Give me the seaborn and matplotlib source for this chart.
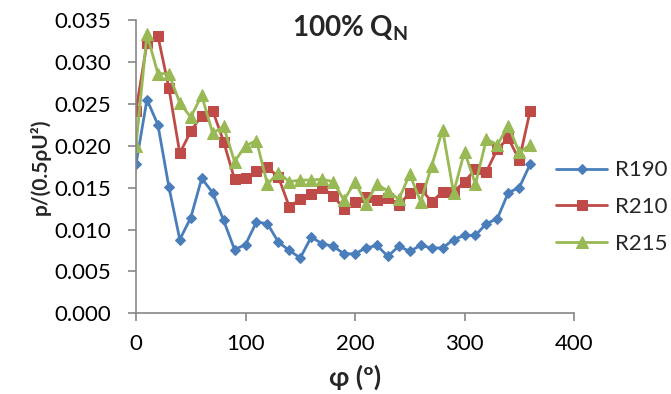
import numpy as np
import pandas as pd
import matplotlib
matplotlib.use("Agg")
import matplotlib.pyplot as plt
import seaborn as sns
from matplotlib.ticker import FormatStrFormatter

phi = list(range(0, 361, 10))
r190 = [0.0178, 0.0255, 0.0225, 0.0151, 0.0088, 0.0114, 0.0161, 0.0144, 0.0111, 0.0076,
        0.0082, 0.0109, 0.0107, 0.0085, 0.0075, 0.0066, 0.0091, 0.0083, 0.0080, 0.0071,
        0.0071, 0.0078, 0.0081, 0.0068, 0.0080, 0.0074, 0.0081, 0.0078, 0.0078, 0.0088,
        0.0093, 0.0093, 0.0107, 0.0113, 0.0144, 0.0150, 0.0178]
r210 = [0.0242, 0.0322, 0.0331, 0.0269, 0.0191, 0.0217, 0.0236, 0.0242, 0.0205, 0.0160,
        0.0161, 0.0170, 0.0174, 0.0163, 0.0127, 0.0136, 0.0142, 0.0150, 0.0140, 0.0125,
        0.0133, 0.0139, 0.0135, 0.0138, 0.0129, 0.0144, 0.0149, 0.0133, 0.0145, 0.0145,
        0.0157, 0.0172, 0.0169, 0.0196, 0.0209, 0.0183, 0.0242]
r215 = [0.0200, 0.0333, 0.0286, 0.0286, 0.0251, 0.0234, 0.0260, 0.0215, 0.0223, 0.0181,
        0.0200, 0.0206, 0.0154, 0.0168, 0.0157, 0.0159, 0.0159, 0.0160, 0.0157, 0.0135,
        0.0157, 0.0131, 0.0154, 0.0146, 0.0136, 0.0166, 0.0133, 0.0176, 0.0219, 0.0144,
        0.0193, 0.0154, 0.0208, 0.0201, 0.0224, 0.0192, 0.0201]
series_names = ["R190", "R210", "R215"]
xticks = [0, 100, 200, 300, 400]
yticks = [0.000, 0.005, 0.010, 0.015, 0.020, 0.025, 0.030, 0.035]

df = pd.DataFrame({"phi": phi * 3,
                   "value": r190 + r210 + r215,
                   "series": sum([[n] * len(phi) for n in series_names], [])})

sns.set_style("white")
plt.rcParams['font.family'] = ['Lato', 'DejaVu Sans']
plt.rcParams['mathtext.fontset'] = 'custom'
plt.rcParams['mathtext.bf'] = 'Lato:bold'
plt.rcParams['mathtext.rm'] = 'Lato'

fig = plt.figure(figsize=(6.71, 3.94), dpi=100)
ax = fig.add_axes([136/671, 1 - 313.3/394, (574 - 136)/671, (313.3 - 20)/394])

colors = ["#4A7EBB", "#BE4B48", "#98B954"]
markers = ["D", "s", "^"]
msizes = [5.5, 7, 8]
for name, c, m, ms in zip(series_names, colors, markers, msizes):
    sub = df[df["series"] == name]
    sns.lineplot(data=sub, x="phi", y="value", ax=ax, color=c, marker=m,
                 markersize=ms, markeredgecolor=c, linewidth=2, label=name)

ax.set_xlim(0, 400)
ax.set_ylim(0, 0.035)
ax.set_xticks(xticks)
ax.set_yticks(yticks)
ax.yaxis.set_major_formatter(FormatStrFormatter('%.3f'))
for s in ["top", "right"]:
    ax.spines[s].set_visible(False)
for s in ["left", "bottom"]:
    ax.spines[s].set_color("#868686")
    ax.spines[s].set_linewidth(1.2)
ax.tick_params(axis='both', which='major', direction='out', length=5.8, width=1.2,
               color="#868686", labelsize=16, labelcolor="black",
               left=True, bottom=True)
ax.tick_params(axis='y', pad=12)
ax.tick_params(axis='x', pad=9)
ax.set_xlabel("φ (º)", fontsize=19, fontweight='bold', labelpad=8)
ax.set_ylabel("p/(0.5ρU²)", fontsize=15, fontweight='bold', labelpad=3)

fig.text(350/671, 1 - 28/394, r"100% Q$_\mathbf{N}$", fontsize=20, fontweight='bold',
         ha='center', va='center')

ax.get_legend().remove()
handles, labels = ax.get_legend_handles_labels()
fig.legend(handles, labels, loc='center left', bbox_to_anchor=(556/671, 1 - 207/394),
           frameon=False, fontsize=16, labelspacing=0.75, handlelength=2.3,
           handletextpad=0.35, borderpad=0, borderaxespad=0)

fig.savefig("out.png", dpi=100)
